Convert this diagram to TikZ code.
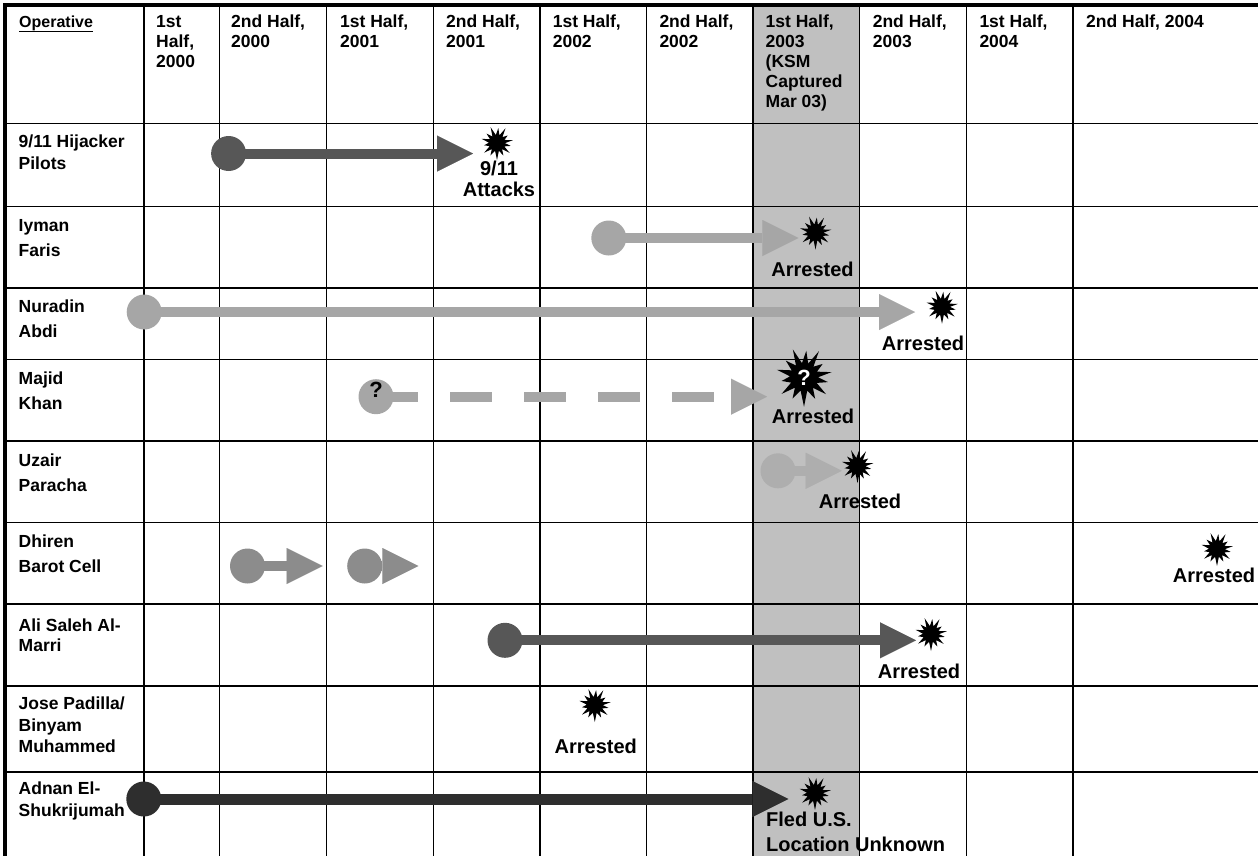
\documentclass[tikz,border=0pt]{standalone}
\usepackage{fontspec}
\setmainfont{Liberation Sans}
\usetikzlibrary{arrows.meta}

\definecolor{colshade}{HTML}{C0C0C0}
\definecolor{darkflow}{HTML}{575757}
\definecolor{lightflow}{HTML}{A6A6A6}
\definecolor{paleflow}{HTML}{AEAEAE}
\definecolor{midflow}{HTML}{8C8C8C}
\definecolor{blackflow}{HTML}{2E2E2E}

\newcommand\hfont{\fontsize{17.5}{20}\selectfont\bfseries}
\newcommand\opfont{\fontsize{16}{20}\selectfont\bfseries}
\newcommand\nfont{\fontsize{20}{24}\selectfont\bfseries}
\newcommand\qfont{\fontsize{22}{24}\selectfont\bfseries}
% stacked lines: first line on the node's baseline, fixed line pitch
\newcommand\lstack[2]{\vtop{\baselineskip=#1\relax\lineskiplimit=-100pt\lineskip=0pt\halign{##\hfil\cr#2\crcr}}}
\newcommand\cstack[2]{\vtop{\baselineskip=#1\relax\lineskiplimit=-100pt\lineskip=0pt\halign{\hfil##\hfil\cr#2\crcr}}}

\tikzset{
  gridline/.style={line width=1.6pt, draw=black},
  frameline/.style={line width=3.4pt, draw=black},
  dot/.style={circle, fill=#1, minimum size=35pt, inner sep=0pt, outer sep=0pt},
  flow/.style={draw=#1, line width=10pt, -{Triangle[length=36pt, width=36pt, line width=0.01pt]}},
  gappy/.style={dash pattern=on 42pt off 32pt},
  hdr/.style={anchor=base west, inner sep=0pt, font=\hfont},
  lbl/.style={anchor=base west, inner sep=0pt, font=\hfont},
  note/.style={anchor=base, inner sep=0pt, font=\nfont},
  burst/.pic={\fill[black, scale=#1] (90:17) -- (104:8) -- (118:14) -- (130.5:8) -- (143:16) -- (156.5:8)
      -- (170:13) -- (182.5:8) -- (195:16) -- (208.5:8) -- (222:14) -- (235:8) -- (248:17) -- (261.5:8)
      -- (275:15) -- (287.5:8) -- (300:17) -- (312.5:8) -- (325:13) -- (337.5:8) -- (350:16) -- (1:8)
      -- (12:14) -- (25:8) -- (38:16) -- (50.5:8) -- (63:14) -- (76.5:8) -- cycle;},
}

\begin{document}
\begin{tikzpicture}[x=1pt, y=-1pt]
\useasboundingbox (0,0) rectangle (1258,855);

% shaded column: 1st half 2003
\fill[colshade] (752.7,5) rectangle (859.5,860);

% table rules
\foreach \cx in {144,219.5,326.5,433.3,540,646.5,752.7,859.5,966.5,1072.7}
  \draw[gridline] (\cx,5) -- (\cx,860);
\foreach \ry in {123.3,206.3,287.7,359.3,440.7,522.5,604,685.7,771.7}
  \draw[gridline] (5,\ry) -- (1260,\ry);
\draw[frameline] (5,860) -- (5,5) -- (1260,5);

% header row
\node[hdr, font=\opfont] (h0) at (19,27.8) {Operative};
\draw[line width=1.6pt] ([yshift=-3.6pt]h0.base west) -- ([yshift=-3.6pt]h0.base east);
\node[hdr] (h1) at (156,27.8) {\lstack{20pt}{1st\cr Half,\cr 2000}};
\node[hdr] (h2) at (231,27.8) {\lstack{20pt}{2nd Half,\cr 2000}};
\node[hdr] (h3) at (340,27.8) {\lstack{20pt}{1st Half,\cr 2001}};
\node[hdr] (h4) at (446,27.8) {\lstack{20pt}{2nd Half,\cr 2001}};
\node[hdr] (h5) at (552.6,27.8) {\lstack{20pt}{1st Half,\cr 2002}};
\node[hdr] (h6) at (659.3,27.8) {\lstack{20pt}{2nd Half,\cr 2002}};
\node[hdr] (h7) at (765.5,27.8) {\lstack{20pt}{1st Half,\cr 2003\cr (KSM\cr Captured\cr Mar 03)}};
\node[hdr] (h8) at (872.6,27.8) {\lstack{20pt}{2nd Half,\cr 2003}};
\node[hdr] (h9) at (979.3,27.8) {\lstack{20pt}{1st Half,\cr 2004}};
\node[hdr] (h10) at (1086,27.8) {2nd Half, 2004};

% operatives
\node[lbl] (r1) at (18.5,147.8) {\lstack{21.7pt}{9/11 Hijacker\cr Pilots}};
\node[lbl] (r2) at (18.5,231.1) {\lstack{25pt}{Iyman\cr Faris}};
\node[lbl] (r3) at (18.5,312.8) {\lstack{25pt}{Nuradin\cr Abdi}};
\node[lbl] (r4) at (18.5,384.4) {\lstack{25pt}{Majid\cr Khan}};
\node[lbl] (r5) at (18.5,466.1) {\lstack{25pt}{Uzair\cr Paracha}};
\node[lbl] (r6) at (18.5,547.8) {\lstack{25pt}{Dhiren\cr Barot Cell}};
\node[lbl] (r7) at (18.5,631.1) {\lstack{20.7pt}{Ali Saleh Al-\cr Marri}};
\node[lbl] (r8) at (18.5,709.4) {\lstack{21.7pt}{Jose Padilla/\cr Binyam\cr Muhammed}};
\node[lbl] (r9) at (18.5,794.4) {\lstack{21.7pt}{Adnan El-\cr Shukrijumah}};

% activity spans
\node[dot=darkflow] (s1) at (228.6,153.5) {};
\coordinate (e1) at (473,153.5);
\draw[flow=darkflow] (s1.center) -- (e1);

\node[dot=lightflow] (s2) at (608.8,238) {};
\coordinate (e2) at (798.3,238);
\draw[flow=lightflow] (s2.center) -- (e2);

\node[dot=lightflow] (s3) at (144.2,312) {};
\coordinate (e3) at (915,312);
\draw[flow=lightflow] (s3.center) -- (e3);

\node[dot=lightflow] (s4) at (376,396.7) {};
\coordinate (e4) at (767,396.7);
\draw[flow=lightflow, gappy] (s4.center) -- (e4);
\node[font=\qfont] (q4) at (376,390) {?};

\node[dot=paleflow] (s5) at (778,470.8) {};
\coordinate (e5) at (841.7,470.8);
\draw[flow=paleflow] (s5.center) -- (e5);

\node[dot=midflow] (s6a) at (247.5,566) {};
\coordinate (e6a) at (322.7,566);
\draw[flow=midflow] (s6a.center) -- (e6a);
\node[dot=midflow] (s6b) at (364.7,566) {};
\coordinate (e6b) at (418.3,566);
\draw[flow=midflow] (s6b.center) -- (e6b);

\node[dot=darkflow] (s7) at (505,640.3) {};
\coordinate (e7) at (916,640.3);
\draw[flow=darkflow] (s7.center) -- (e7);

\node[dot=blackflow] (s9) at (143.8,799) {};
\coordinate (e9) at (788.3,799);
\draw[flow=blackflow, line width=11pt] (s9.center) -- (e9);

% outcome markers
\pic at (497,143) {burst=1};
\pic at (815.5,232.5) {burst=1};
\pic at (942,306.7) {burst=1};
\pic at (804,377) {burst=1.75};
\node[font=\qfont, text=white] (q4b) at (804,378) {?};
\pic at (857.5,466) {burst=1};
\pic at (1217,549) {burst=1};
\pic at (931,634) {burst=1};
\pic at (594.8,705) {burst=1};
\pic at (815,793) {burst=1};

% outcome notes
\node[note] (n1) at (499,175) {\cstack{21.7pt}{9/11\cr Attacks}};
\node[note] (n2) at (812.5,276) {Arrested};
\node[note] (n3) at (923,350) {Arrested};
\node[note] (n4) at (813,423) {Arrested};
\node[note] (n5) at (860,508.3) {Arrested};
\node[note] (n6) at (1214,582.7) {Arrested};
\node[note] (n7) at (919,678.3) {Arrested};
\node[note] (n8) at (595.8,753.3) {Arrested};
\node[note, anchor=base west] (n9) at (766,826.7) {\lstack{25pt}{Fled U.S.\cr Location Unknown}};
\end{tikzpicture}
\end{document}
